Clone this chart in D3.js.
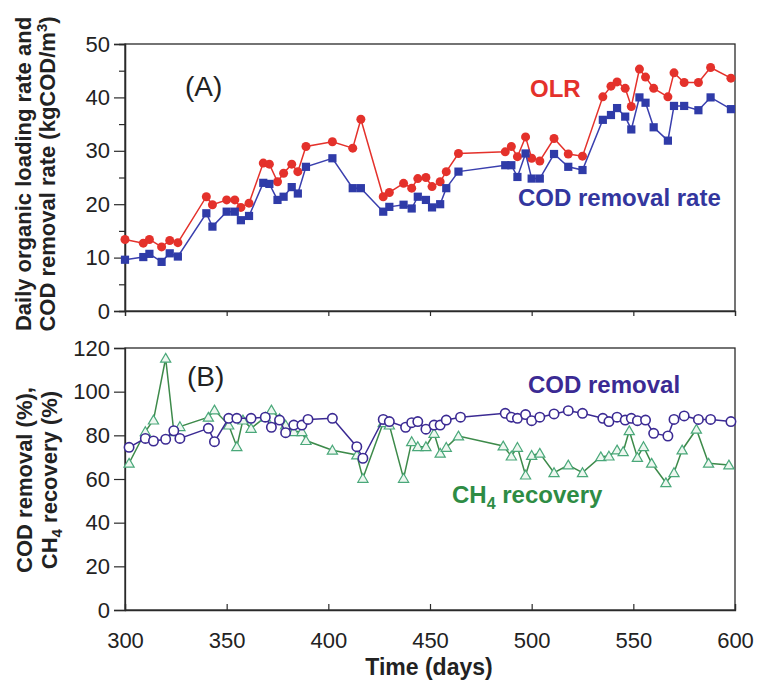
<!DOCTYPE html>
<html>
<head>
<meta charset="utf-8">
<script src="https://cdn.jsdelivr.net/npm/d3@7"></script>
<style>
body{margin:0;background:#fff;}
text{font-family:"Liberation Sans",Arial,sans-serif;}
</style>
</head>
<body>
<script>
// panel A: daily loading / removal rate (kgCOD/m3)
var dayA=[300,309,312,318,322,326,340,343,350,354,357,361,368,371,375,378,382,385,389,402,
  412,416,427,430,437,441,444,448,451,455,458,464,487,490,493,497,500,504,
  511,518,525,535,539,542,546,549,553,556,560,567,570,575,582,588,598];
var olr=[13.4,12.7,13.4,12.0,13.2,12.8,21.4,19.9,20.8,20.8,19.4,20.2,27.7,27.5,24.2,25.8,27.5,26.1,30.8,31.7,
  30.5,35.9,21.4,22.2,23.9,23.0,24.8,25.0,23.3,24.2,26.1,29.5,29.8,30.8,28.9,32.6,28.6,28.1,
  32.3,29.4,29.0,40.1,42.1,42.9,41.7,38.3,45.3,43.8,41.7,40.1,44.6,42.8,42.8,45.6,43.6];
var codRate=[9.6,10.1,10.7,9.2,10.8,10.2,18.3,15.8,18.6,18.6,17.0,17.8,24.0,23.8,20.8,21.4,23.2,22.0,27.0,28.6,
  23.0,23.0,18.6,19.5,19.9,19.2,21.4,20.8,19.4,20.0,23.0,26.1,27.3,27.3,25.1,29.5,24.8,24.8,
  29.4,27.0,26.4,35.8,36.7,38.0,36.4,34.0,40.0,39.0,34.4,31.9,38.4,38.4,37.6,40.0,37.8];

// panel B: COD removal and CH4 recovery (%)
var codDays=[302,310,314,320,324,327,341,344,351,355,362,369,372,376,379,383,387,390,402,
  414,417,427,430,438,441,444,448,452,455,458,465,
  487,490,493,497,500,504,511,518,525,535,538,542,546,549,552,556,560,567,570,575,582,588,598];
var codRem=[74.5,78.6,77.4,78.2,82.1,78.6,83.2,77.1,87.8,87.8,87.8,88.3,83.7,87.0,81.2,84.7,84.7,87.3,87.8,
  74.8,69.5,87.3,86.3,83.7,85.8,86.3,82.8,84.7,84.7,87.0,88.3,
  90.1,88.3,87.8,89.5,86.7,88.3,89.8,91.3,90.1,87.8,86.3,88.3,87.0,87.8,86.7,87.0,80.9,79.7,87.3,88.9,87.3,87.3,86.3];
var ch4Days=[302,310,314,320,324,327,341,344,351,355,358,362,369,372,376,379,383,387,389,402,
  414,417,427,430,437,441,444,448,452,455,458,464,
  486,490,493,497,500,504,511,518,525,534,538,542,545,548,552,555,559,566,570,574,581,587,597];
var ch4=[67.2,81.7,87.0,115.3,81.7,84.0,88.3,91.6,84.7,74.8,87.0,83.2,88.3,91.6,87.6,84.7,81.7,81.7,77.6,73.2,
  71.0,60.3,85.8,84.7,60.3,77.1,74.8,74.8,80.9,71.8,74.5,79.7,
  75.1,70.5,74.5,61.8,70.8,71.8,62.9,66.4,62.9,70.2,70.5,73.3,72.5,82.1,69.9,74.8,67.2,58.3,62.9,73.3,82.8,67.2,66.4];

var xTicks=[300,350,400,450,500,550,600];
var yTicksA=[0,10,20,30,40,50];
var yMinorA=[5,15,25,35,45];
var yTicksB=[0,20,40,60,80,100,120];

var svg=d3.select("body").append("svg").attr("width",759).attr("height",684);

var x=d3.scaleLinear().domain([300,600]).range([125,735]);
var yA=d3.scaleLinear().domain([0,50]).range([311,44]);
var yB=d3.scaleLinear().domain([0,120]).range([610,348]);

var ink="#2a2a2a";
function frame(top,bottom){
  svg.append("rect").attr("x",125).attr("y",top).attr("width",610).attr("height",bottom-top)
    .attr("fill","none").attr("stroke",ink).attr("stroke-width",1.3);
}
frame(44,311);
frame(348,610);

// y axes
svg.append("g").attr("transform","translate(125,0)")
  .call(d3.axisLeft(yA).tickValues(yTicksA).tickSize(11).tickPadding(4));
svg.append("g").attr("transform","translate(125,0)")
  .call(d3.axisLeft(yA).tickValues(yMinorA).tickSize(6).tickFormat(""));
svg.append("g").attr("transform","translate(125,0)")
  .call(d3.axisLeft(yB).tickValues(yTicksB).tickSize(11).tickPadding(4));
// x axes
svg.append("g").attr("transform","translate(0,311)")
  .call(d3.axisBottom(x).tickValues(xTicks).tickSize(5).tickFormat(""));
svg.append("g").attr("transform","translate(0,610)")
  .call(d3.axisTop(x).tickValues(xTicks).tickSize(6).tickFormat(""));
svg.append("g").attr("transform","translate(0,610)")
  .call(d3.axisBottom(x).tickValues(xTicks).tickSize(0).tickPadding(22))
  .select(".domain").remove();

svg.selectAll(".domain").attr("stroke",ink).attr("stroke-width",1.3);
svg.selectAll(".tick line").attr("stroke",ink).attr("stroke-width",1.2);
svg.selectAll(".tick text").attr("font-size",22).attr("fill","#222")
  .style("font-family","'Liberation Sans',Arial,sans-serif");

// series
function drawLine(xs,ys,yScale,col,w){
  var pts=xs.map(function(d,i){return [d,ys[i]];});
  svg.append("path").datum(pts)
    .attr("d",d3.line().x(function(d){return x(d[0]);}).y(function(d){return yScale(d[1]);}))
    .attr("fill","none").attr("stroke",col).attr("stroke-width",w);
  return pts;
}

var pOlr=drawLine(dayA,olr,yA,"#e4312b",1.5);
svg.selectAll(".olr").data(pOlr).enter().append("circle")
  .attr("cx",function(d){return x(d[0]);}).attr("cy",function(d){return yA(d[1]);})
  .attr("r",4.5).attr("fill","#e4312b");

var pCod=drawLine(dayA,codRate,yA,"#3a3fae",1.5);
svg.selectAll(".codr").data(pCod).enter().append("rect")
  .attr("x",function(d){return x(d[0])-4.1;}).attr("y",function(d){return yA(d[1])-4.1;})
  .attr("width",8.2).attr("height",8.2).attr("fill","#2f3ba8");

var pCh4=drawLine(ch4Days,ch4,yB,"#3d8a4a",1.5);
var tri=d3.symbol().type(d3.symbolTriangle).size(45);
svg.selectAll(".ch4").data(pCh4).enter().append("path")
  .attr("d",tri)
  .attr("transform",function(d){return "translate("+x(d[0])+","+(yB(d[1])+1)+")";})
  .attr("fill","#eef7f0").attr("stroke","#4aa87a").attr("stroke-width",1.2);

var pRem=drawLine(codDays,codRem,yB,"#3b2a93",1.5);
svg.selectAll(".rem").data(pRem).enter().append("circle")
  .attr("cx",function(d){return x(d[0]);}).attr("cy",function(d){return yB(d[1]);})
  .attr("r",4.7).attr("fill","#fff").attr("stroke","#3b2a93").attr("stroke-width",1.6);

// annotations
function label(t,xp,yp,size,col,bold){
  return svg.append("text").attr("x",xp).attr("y",yp).attr("font-size",size)
    .attr("fill",col).attr("font-weight",bold?"bold":"normal").text(t);
}
label("(A)",185,96,28,"#222",false);
label("OLR",530,97,24,"#e4312b",true);
label("COD removal rate",518,206,24,"#33369e",true);
label("(B)",187,386,28,"#222",false);
label("COD removal",528,393,24,"#3b2a93",true);
var ch=label("CH",452,503,24,"#2e8c44",true);
ch.append("tspan").attr("font-size",16).attr("dy",6).text("4");
ch.append("tspan").attr("dy",-6).text(" recovery");

// axis titles
svg.append("text").attr("x",429).attr("y",675).attr("text-anchor","middle")
  .attr("font-size",23).attr("font-weight","bold").attr("fill","#222").text("Time (days)");

var ta=svg.append("text").attr("transform","translate(31,174) rotate(-90)").attr("text-anchor","middle")
  .attr("font-size",22).attr("font-weight","bold").attr("fill","#222");
ta.append("tspan").attr("x",0).attr("y",0).text("Daily organic loading rate and");
var t2=ta.append("tspan").attr("x",0).attr("y",24).text("COD removal rate (kgCOD/m");
t2.append("tspan").attr("font-size",15).attr("dy",-8).text("3");
t2.append("tspan").attr("dy",8).text(")");

var tb=svg.append("text").attr("transform","translate(32,480) rotate(-90)").attr("text-anchor","middle")
  .attr("font-size",22).attr("font-weight","bold").attr("fill","#222");
tb.append("tspan").attr("x",0).attr("y",0).text("COD removal (%),");
var t3=tb.append("tspan").attr("x",0).attr("y",25).text("CH");
t3.append("tspan").attr("font-size",15).attr("dy",5).text("4");
t3.append("tspan").attr("dy",-5).text(" recovery (%)");
</script>
</body>
</html>
